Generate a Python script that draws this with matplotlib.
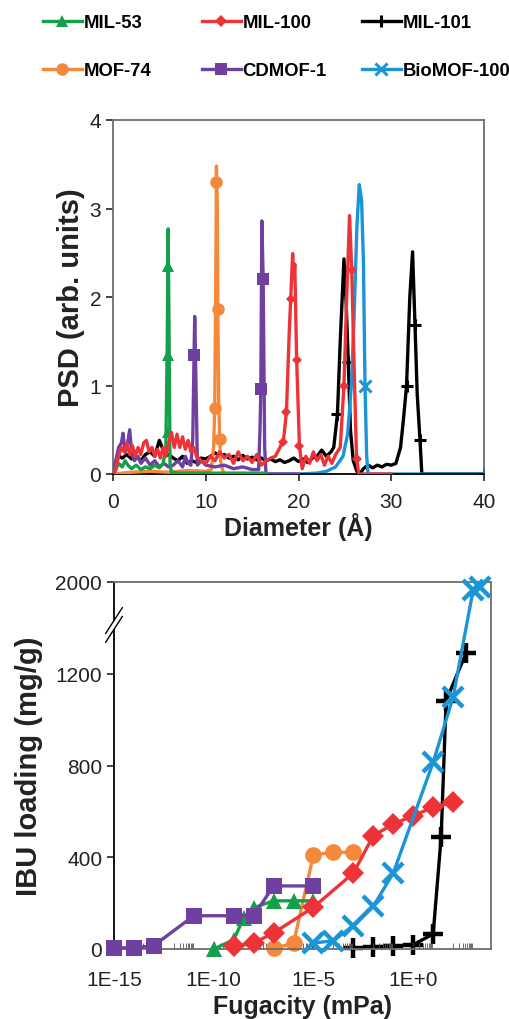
import matplotlib
matplotlib.use("Agg")
import matplotlib.pyplot as plt
from matplotlib.lines import Line2D
from matplotlib.patches import Rectangle
from matplotlib.ticker import FixedLocator, NullFormatter
import numpy as np

plt.rcParams['font.family'] = ['Liberation Sans', 'DejaVu Sans']

# ---------------- data: pore size distributions (top) ----------------
mil53_psd_x = [0, 0.3, 0.6, 1.0, 1.3, 1.6, 2.0, 2.5, 3.0, 3.5, 4.0, 4.5, 5.0, 5.4, 5.7, 5.85, 5.95, 6.05, 6.15, 6.3, 7, 10, 16.5]
mil53_psd_y = [0, 0.05, 0.12, 0.08, 0.15, 0.1, 0.06, 0.1, 0.05, 0.08, 0.06, 0.1, 0.07, 0.12, 0.3, 1.5, 2.77, 1.5, 0.1, 0.02, 0.01, 0.01, 0.01]
mil53_mk_x = [5.95, 5.95, 5.92]
mil53_mk_y = [2.35, 1.35, 0.48]

mil100_psd_x = [0, 0.3, 0.6, 0.9, 1.2, 1.5, 1.8, 2.1, 2.4, 2.7, 3.0, 3.3, 3.6, 3.9, 4.2, 4.5, 4.8, 5.1, 5.4, 5.7,
                6.0, 6.3, 6.6, 6.9, 7.2, 7.5, 7.8, 8.1, 8.4, 8.7, 9.0, 9.5, 10, 10.5, 11, 11.5, 12, 12.5, 13, 13.5,
                14, 14.5, 15, 15.5, 16, 16.5, 17, 17.5, 18, 18.4, 18.7, 19.0, 19.16, 19.37, 19.5, 19.6, 19.8, 20.1,
                20.4, 20.8, 21.2, 21.6, 22.0, 22.4, 22.8, 23.2, 23.6, 24.0, 24.5, 24.9, 25.2, 25.5, 25.74, 26.0,
                26.26, 26.5, 30]
mil100_psd_y = [0, 0.05, 0.2, 0.3, 0.25, 0.35, 0.22, 0.32, 0.2, 0.3, 0.22, 0.35, 0.38, 0.25, 0.3, 0.2, 0.28, 0.18, 0.3, 0.2,
                0.35, 0.47, 0.3, 0.45, 0.3, 0.42, 0.28, 0.38, 0.25, 0.3, 0.2, 0.15, 0.12, 0.2, 0.15, 0.25, 0.18, 0.22, 0.12, 0.25,
                0.15, 0.2, 0.13, 0.22, 0.1, 0.15, 0.18, 0.2, 0.3, 0.4, 0.7, 1.6, 1.98, 2.49, 2.2, 2.37, 1.29, 0.32,
                0.06, 0.2, 0.12, 0.25, 0.15, 0.22, 0.1, 0.2, 0.12, 0.22, 0.3, 1.0, 2.0, 2.92, 2.31, 1.2,
                0.17, 0.0, 0.0]
mil100_mk_x = [18.3, 18.7, 19.16, 19.8, 20.1, 24.9, 25.74, 26.26]
mil100_mk_y = [0.36, 0.70, 1.98, 1.29, 0.32, 1.0, 2.31, 0.17]

mil101_psd_x = [0, 0.3, 0.7, 1.0, 1.5, 2.0, 2.5, 3.0, 3.5, 4.0, 4.5, 5.0, 5.3, 5.6, 6.0, 6.5, 7.0, 7.5, 8.0, 8.5,
                9.0, 9.5, 10, 10.5, 11, 11.5, 12, 12.5, 13, 13.5, 14, 14.5, 15, 15.5, 16, 16.5, 17, 17.5, 18, 18.5,
                19, 19.5, 20, 20.5, 21, 21.5, 22, 22.5, 23, 23.5, 23.8, 24.2, 24.5, 24.9, 25.15, 25.37, 25.6, 25.9,
                26.3, 26.6, 27, 27.5, 28, 28.5, 29, 29.5, 30, 30.5, 31, 31.3, 31.65, 32.0, 32.3, 32.56, 32.8, 33.1,
                33.3, 40]
mil101_psd_y = [0, 0.15, 0.2, 0.18, 0.22, 0.17, 0.2, 0.15, 0.22, 0.25, 0.2, 0.38, 0.3, 0.2, 0.22, 0.18, 0.15, 0.2, 0.12, 0.15,
                0.13, 0.18, 0.17, 0.2, 0.24, 0.2, 0.22, 0.18, 0.2, 0.16, 0.21, 0.17, 0.19, 0.16, 0.18, 0.15, 0.17, 0.14, 0.16, 0.13,
                0.15, 0.18, 0.14, 0.17, 0.13, 0.18, 0.2, 0.27, 0.2, 0.25, 0.3, 0.68, 1.5, 2.43, 1.9, 1.26, 0.5, 0.15,
                0.03, 0.0, 0.06, 0.1, 0.07, 0.1, 0.08, 0.11, 0.1, 0.12, 0.3, 0.6, 1.0, 2.0, 2.51, 1.68, 0.9, 0.38,
                0.0, 0.0]
mil101_mk_x = [24.2, 25.37, 31.65, 32.56, 33.1, 40]
mil101_mk_y = [0.68, 1.26, 1.0, 1.68, 0.38, 0.0]

mof74_psd_x = [0, 2, 4, 6, 8, 10, 10.6, 10.85, 10.97, 11.1, 11.15, 11.25, 11.3, 11.4, 11.5, 11.6, 11.8, 12, 14]
mof74_psd_y = [0, 0.02, 0.03, 0.02, 0.04, 0.03, 0.05, 0.3, 0.75, 2.5, 3.48, 3.0, 1.86, 0.8, 0.4, 0.15, 0.05, 0, 0]
mof74_mk_x = [11.15, 11.3, 10.97, 11.5]
mof74_mk_y = [3.30, 1.86, 0.75, 0.40]

cdmof_psd_x = [0, 0.3, 0.6, 0.9, 1.08, 1.3, 1.5, 1.8, 2.0, 2.3, 2.7, 3.0, 3.5, 4.0, 4.5, 5.0, 5.5, 6.0, 6.5, 7.0,
               7.5, 7.8, 8.1, 8.4, 8.6, 8.74, 8.81, 8.95, 9.1, 9.5, 10, 11, 12, 13, 14, 15, 15.7, 15.85, 15.94,
               16.05, 16.19, 16.35, 16.5, 20]
cdmof_psd_y = [0, 0.15, 0.3, 0.35, 0.46, 0.25, 0.3, 0.5, 0.25, 0.15, 0.2, 0.12, 0.18, 0.1, 0.15, 0.08, 0.12, 0.08, 0.1, 0.15,
               0.08, 0.2, 0.12, 0.1, 0.4, 1.35, 1.78, 1.0, 0.1, 0.15, 0.1, 0.08, 0.1, 0.06, 0.08, 0.05, 0.05, 0.5, 0.96,
               2.86, 2.2, 0.3, 0.0, 0.0]
cdmof_mk_x = [8.74, 15.94, 16.19]
cdmof_mk_y = [1.35, 0.96, 2.2]

biomof_psd_x = [0, 20, 22, 23, 24, 24.8, 25.3, 25.7, 26.0, 26.3, 26.55, 26.8, 27.0, 27.17, 27.35, 27.5, 40]
biomof_psd_y = [0, 0, 0.01, 0.03, 0.08, 0.2, 0.45, 1.0, 1.8, 2.8, 3.27, 3.1, 2.4, 1.0, 0.2, 0.0, 0.0]
biomof_mk_x = [27.17]
biomof_mk_y = [1.0]

# ---------------- data: IBU loading vs fugacity (bottom) ----------------
mil53_log_f = [-10, -9, -8.5, -8, -7, -6, -5]
mil53_load = [0, 40, 135, 180, 210, 210, 210]

mil100_log_f = [-9, -8, -7, -5, -3, -2, -1, 0, 1, 2]
mil100_load = [12, 26, 70, 182, 331, 494, 545, 581, 618, 640]

mil101_log_f = [-3, -2, -1, 0, 1, 1.4, 1.65, 2.65]
mil101_load = [3, 10, 12, 19, 65, 487, 1083, 1290]

mof74_log_f = [-7, -6, -5, -4, -3]
mof74_load = [3, 25, 410, 422, 422]

cdmof_log_f = [-15, -14, -13, -11, -9, -8, -7, -5]
cdmof_load = [5, 5, 15, 145, 145, 145, 275, 275]

biomof_log_f = [-5, -4, -3, -2, -1, 1, 2, 3, 3.35]
biomof_load = [26, 36, 102, 186, 331, 814, 1098, 1963, 1978]

names = ['MIL-53', 'MIL-100', 'MIL-101', 'MOF-74', 'CDMOF-1', 'BioMOF-100']
colors = ['#14A04B', '#EE3338', '#000000', '#F5883A', '#7040A0', '#1B95D6']
markers = ['^', 'D', '+', 'o', 's', 'x']

# y-axis break: values above 1400 are shown shifted down by 400
def brk(v):
    v = np.asarray(v, dtype=float)
    return np.where(v > 1400, v - 400, v)

fig = plt.figure(figsize=(5.09, 10.20), dpi=100)

spine_grey = '#6d6d6d'
lw = 2.4
txt = '#222222'

# ---------------- top axes ----------------
ax1 = fig.add_axes([113/509, 1-475/1020, (484-113)/509, (475-121)/1020])
top_series = [
    (mil53_psd_x, mil53_psd_y, mil53_mk_x, mil53_mk_y, 0, 8, 5),
    (mil100_psd_x, mil100_psd_y, mil100_mk_x, mil100_mk_y, 1, 5.5, 6),
    (mil101_psd_x, mil101_psd_y, mil101_mk_x, mil101_mk_y, 2, 8, 1),
    (mof74_psd_x, mof74_psd_y, mof74_mk_x, mof74_mk_y, 3, 9, 3),
    (cdmof_psd_x, cdmof_psd_y, cdmof_mk_x, cdmof_mk_y, 4, 8, 4),
    (biomof_psd_x, biomof_psd_y, biomof_mk_x, biomof_mk_y, 5, 8, 2),
]
for x, y, mx, my, i, ms, z in top_series:
    ax1.plot(x, y, color=colors[i], lw=lw, zorder=z, solid_joinstyle='round')
    mew = 2.2 if markers[i] in ['+', 'x'] else 0
    ax1.plot(mx, my, linestyle='none', marker=markers[i], ms=ms, color=colors[i],
             mec=colors[i], mew=mew, zorder=z + 0.5)

ax1.set_xlim(0, 40)
ax1.set_ylim(0, 4)
ax1.set_xticks([0, 10, 20, 30, 40])
ax1.set_yticks([0, 1, 2, 3, 4])
ax1.tick_params(labelsize=15, direction='out', length=5, width=1.2, colors=txt)
ax1.tick_params(axis='x', pad=8)
for s in ['top', 'right', 'left']:
    ax1.spines[s].set_color(spine_grey)
    ax1.spines[s].set_linewidth(1.3)
ax1.spines['bottom'].set_color('black')
ax1.spines['bottom'].set_linewidth(1.3)
ax1.set_xlabel('Diameter (Å)', fontsize=18, fontweight='bold', labelpad=1, color=txt)
ax1.set_ylabel('PSD (arb. units)', fontsize=21, fontweight='bold', labelpad=3, color=txt)

# ---------------- bottom axes ----------------
ax2 = fig.add_axes([114/509, 1-950/1020, (491-114)/509, (950-583)/1020])
bottom_series = [
    (mil101_log_f, mil101_load, 2, 15, 1),
    (mof74_log_f, mof74_load, 3, 12, 2),
    (mil53_log_f, mil53_load, 0, 12, 3),
    (cdmof_log_f, cdmof_load, 4, 11.5, 4),
    (mil100_log_f, mil100_load, 1, 11, 5),
    (biomof_log_f, biomof_load, 5, 14, 6),
]
for lf, ld, i, ms, z in bottom_series:
    f = 10.0 ** np.asarray(lf, dtype=float)
    mew = 3.2 if markers[i] in ['+', 'x'] else 0
    ax2.plot(f, brk(ld), color=colors[i], lw=lw, marker=markers[i], ms=ms,
             mec=colors[i], mew=mew, zorder=z, clip_on=False)

ax2.set_xscale('log')
ax2.set_xlim(1e-15, 10 ** 3.9)
ax2.set_ylim(0, 1600)
ax2.xaxis.set_major_locator(FixedLocator([1e-15, 1e-10, 1e-5, 1e0]))
ax2.set_xticklabels(['1E-15', '1E-10', '1E-5', '1E+0'])
minor = [m * 10.0 ** e for e in range(-14, 4, 2) for m in range(1, 10)]
ax2.xaxis.set_minor_locator(FixedLocator(minor))
ax2.xaxis.set_minor_formatter(NullFormatter())
ax2.set_yticks([0, 400, 800, 1200, 1600])
ax2.set_yticklabels(['0', '400', '800', '1200', '2000'])
ax2.tick_params(axis='y', labelsize=15, direction='out', length=5, width=1.2, colors=txt)
ax2.tick_params(axis='x', which='major', labelsize=15, direction='in', length=5, width=1.0,
                colors=txt, pad=15)
ax2.tick_params(axis='x', which='minor', direction='in', length=4, width=0.6, colors='#555555')
for s in ['top', 'right', 'bottom']:
    ax2.spines[s].set_color(spine_grey)
    ax2.spines[s].set_linewidth(1.3)
ax2.spines['left'].set_color('black')
ax2.spines['left'].set_linewidth(1.3)
ax2.set_xlabel('Fugacity (mPa)', fontsize=18, fontweight='bold', labelpad=4, color=txt)
ax2.set_ylabel('IBU loading (mg/g)', fontsize=21, fontweight='bold', labelpad=9, color=txt)

# axis break marks on the left spine
ax2.add_patch(Rectangle((-0.01, 0.872), 0.02, 0.022, transform=ax2.transAxes,
                        facecolor='white', edgecolor='none', clip_on=False, zorder=10))
for dy in (-0.012, 0.012):
    ax2.plot([-0.022, 0.022], [0.848 + dy, 0.918 + dy],
             transform=ax2.transAxes, color='black', lw=1.0, clip_on=False, zorder=11)

# ---------------- legend (one entry each, placed in figure coords) ----------------
leg_pos = [(43, 24), (202, 24), (362, 24), (43, 72), (202, 72), (362, 72)]
leg_ms = [8, 6, 9, 9, 8, 9]
for i, (px, py) in enumerate(leg_pos):
    mew = 2.2 if markers[i] in ['+', 'x'] else 0
    h = Line2D([], [], color=colors[i], lw=lw, marker=markers[i], ms=leg_ms[i], mec=colors[i], mew=mew)
    fig.legend([h], [names[i]], loc='center left', bbox_to_anchor=(px / 509, 1 - py / 1020),
               frameon=False, handlelength=2.1, handletextpad=0.1, borderpad=0, borderaxespad=0,
               prop={'size': 13.3, 'weight': 'bold'})

fig.savefig('out.png', dpi=100)
